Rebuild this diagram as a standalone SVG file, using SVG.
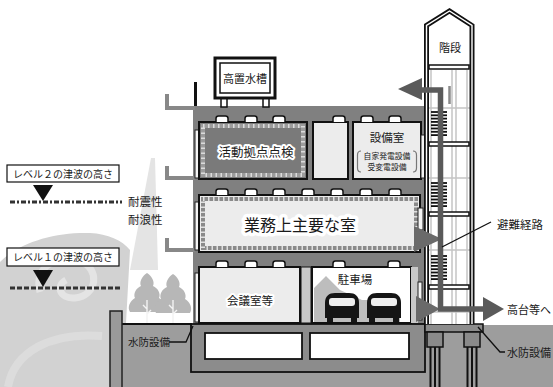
<svg xmlns="http://www.w3.org/2000/svg" width="553" height="387" viewBox="0 0 553 387">
<style>
  text { font-family: 'Noto Sans CJK JP', 'Noto Sans', sans-serif; fill: #1a1a1a; }
  .room { fill: #ececec; stroke: #111; stroke-width: 2; }
  .win { fill: #f4f4f4; stroke: #222; stroke-width: 1; }
  .tab { fill: #fff; stroke: #111; stroke-width: 1.5; }
  .halo { stroke: #fff; stroke-linejoin: round; paint-order: stroke; }
  .lead { fill: none; stroke: #111; stroke-width: 1.3; }
  .grid { stroke: #c4c4c4; stroke-width: 1.5; }
  .tread { stroke: #111; stroke-width: 1.8; }
  .route { fill: none; stroke: #5a5a5a; stroke-width: 5.5; }
  .head { fill: #5a5a5a; }
  .flow { fill: #6a6a6a; }
  .eave { fill: none; stroke: #888; stroke-width: 4; }
  .box { fill: #fff; stroke: #111; stroke-width: 1.2; }
  .tree { fill: #b7b7b7; }
  .trunk { stroke: #f3f3f3; stroke-width: 1.4; fill: none; }
  .pile { stroke: #111; stroke-width: 2; }
</style>
<defs>
  <path id="tab" class="tab" d="M0,6 V2.5 Q0,0 2.5,0 H9.5 Q12,0 12,2.5 V6"/>
  <g id="car">
    <path d="M0,25 V10 C0,3 4,0 10,0 H24 C30,0 34,3 34,10 V25 Z" fill="#151515"/>
    <rect x="4" y="5" width="26" height="8" rx="3" fill="#eee"/>
    <rect x="2" y="24" width="6" height="5" fill="#151515"/>
    <rect x="26" y="24" width="6" height="5" fill="#151515"/>
  </g>
  <g id="treads" class="tread">
    <line x1="431" y1="0" x2="447" y2="0"/>
    <line x1="431" y1="3.3" x2="447" y2="3.3"/>
    <line x1="431" y1="6.6" x2="447" y2="6.6"/>
    <line x1="431" y1="9.9" x2="447" y2="9.9"/>
    <line x1="431" y1="13.2" x2="447" y2="13.2"/>
    <line x1="431" y1="16.5" x2="447" y2="16.5"/>
    <line x1="431" y1="19.8" x2="447" y2="19.8"/>
    <line x1="431" y1="23.1" x2="447" y2="23.1"/>
  </g>
  <path id="crown" d="M0,0 C5,3 8,9 6,13 C11,15 14,21 12,25 C17,28 20,34 17,39 H-17 C-20,34 -17,28 -12,25 C-14,21 -11,15 -6,13 C-8,9 -5,3 0,0 Z"/>
</defs>

<rect width="553" height="387" fill="#fff"/>

<!-- tsunami wave backdrop -->
<g id="wave">
  <path d="M0,387 V262 C20,242 55,232 90,233 C108,234 122,240 130,250 L126,323 L110,323 L110,387 Z" fill="#d2d2d2"/>
  <path d="M40,292 C33,266 58,254 80,261 C101,269 97,296 75,298 C60,299 55,286 66,280" fill="none" stroke="#e4e4e4" stroke-width="7"/>
  <path d="M8,387 C14,352 50,332 102,336" fill="none" stroke="#dcdcdc" stroke-width="8"/>
  <polygon points="151,158 155,158 158,270 130,270" fill="#e4e4e4"/>
</g>

<!-- ground -->
<rect x="122" y="325" width="431" height="62" fill="#9d9d9d"/>
<line x1="122" y1="324" x2="192" y2="324" stroke="#111" stroke-width="2"/>
<rect x="110" y="311" width="12" height="80" fill="#9a9a9a" stroke="#222" stroke-width="1.5"/>

<!-- trees -->
<g id="trees">
  <use href="#crown" class="tree" transform="translate(147,273)"/>
  <use href="#crown" class="tree" transform="translate(173,274)"/>
  <path class="trunk" d="M147,300 V323 M147,309 L143,305 M147,314 L151,310 M173,300 V323 M173,309 L169,305 M173,314 L177,310"/>
</g>

<!-- building body -->
<g id="building">
  <rect x="193" y="106" width="233" height="218" fill="#808080"/>
  <polyline class="eave" points="167,94 167,108 195,108"/>
  <polyline class="eave" points="167,166 167,178 195,178"/>
  <polyline class="eave" points="167,238 167,250 195,250"/>
  <line x1="195.5" y1="82" x2="195.5" y2="106" stroke="#111" stroke-width="3"/>
</g>

<g id="water-tank">
  <rect x="221" y="96" width="6" height="11" fill="#fff" stroke="#111" stroke-width="1.5"/>
  <rect x="263" y="96" width="6" height="11" fill="#fff" stroke="#111" stroke-width="1.5"/>
  <rect x="215" y="58" width="60" height="40" fill="#fff" stroke="#111" stroke-width="3"/>
  <rect x="220" y="63" width="50" height="30" fill="#fff" stroke="#111" stroke-width="1.5"/>
  <text x="245" y="83" font-size="11" text-anchor="middle">高置水槽</text>
</g>

<!-- third floor -->
<g id="room-activity">
  <rect x="195" y="130" width="4" height="48" class="win"/>
  <rect x="199" y="122" width="108" height="57" fill="#7a7a7a" stroke="#111" stroke-width="2"/>
  <rect x="203" y="126" width="100" height="49" fill="none" stroke="#9c9c9c" stroke-width="4"/>
  <rect x="203" y="126" width="100" height="49" fill="none" stroke="#dcdcdc" stroke-width="4" stroke-dasharray="1.5 3.5"/>
  <text x="256" y="157" font-size="12.5" text-anchor="middle" class="halo" stroke-width="4">活動拠点点検</text>
</g>
<g id="room-spare">
  <rect x="313" y="122" width="35" height="57" class="room"/>
</g>
<g id="room-equipment">
  <rect x="353" y="122" width="68" height="57" class="room"/>
  <rect x="421" y="135" width="4" height="43" class="win"/>
  <text x="387" y="142" font-size="11.5" text-anchor="middle">設備室</text>
  <text x="387" y="159" font-size="7.8" text-anchor="middle">自家発電設備</text>
  <text x="387" y="169.5" font-size="7.8" text-anchor="middle">受変電設備</text>
  <path d="M361,151 Q357.5,151 357.5,155 V168 Q357.5,172 361,172 M413,151 Q416.5,151 416.5,155 V168 Q416.5,172 413,172" fill="none" stroke="#777" stroke-width="1.2"/>
</g>

<!-- second floor -->
<g id="room-main">
  <rect x="195" y="202" width="4" height="48" class="win"/>
  <rect x="199" y="195" width="221" height="57" class="room"/>
  <rect x="203" y="199" width="213" height="49" fill="none" stroke="#8a8a8a" stroke-width="4"/>
  <rect x="203" y="199" width="213" height="49" fill="none" stroke="#e0e0e0" stroke-width="4" stroke-dasharray="1.5 3.5"/>
  <rect x="418" y="208" width="5" height="22" class="win"/>
  <text x="300" y="231" font-size="16" text-anchor="middle" class="halo" stroke-width="7">業務上主要な室</text>
</g>

<!-- first floor -->
<g id="room-meeting">
  <rect x="195" y="273" width="4" height="49" class="win"/>
  <rect x="199" y="267" width="101" height="56" class="room"/>
  <text x="250" y="305" font-size="11.5" text-anchor="middle" class="halo" stroke-width="4">会議室等</text>
</g>
<rect x="301" y="267" width="10" height="56" fill="#c9c9c9" stroke="#111" stroke-width="1"/>
<g id="room-parking">
  <rect x="312" y="267" width="99" height="56" fill="#fff" stroke="#111" stroke-width="2"/>
  <polygon points="314,322 314,288 326,276 340,290 362,300 400,300 400,322" fill="#bdbdbd"/>
  <use href="#car" transform="translate(325,293)"/>
  <use href="#car" transform="translate(367,293)"/>
  <rect x="411" y="267" width="7" height="56" fill="#c9c9c9"/>
  <rect x="418" y="282" width="4" height="38" class="win"/>
  <text x="355" y="284" font-size="11.5" text-anchor="middle">駐車場</text>
</g>

<!-- ceiling lights -->
<g id="lights">
  <use href="#tab" x="216" y="116"/><use href="#tab" x="245" y="116"/><use href="#tab" x="273" y="116"/>
  <use href="#tab" x="333" y="116"/><use href="#tab" x="361" y="116"/><use href="#tab" x="389" y="116"/>
  <use href="#tab" x="216" y="189"/><use href="#tab" x="245" y="189"/><use href="#tab" x="273" y="189"/>
  <use href="#tab" x="302" y="189"/><use href="#tab" x="331" y="189"/><use href="#tab" x="360" y="189"/><use href="#tab" x="389" y="189"/>
  <use href="#tab" x="216" y="261"/><use href="#tab" x="245" y="261"/><use href="#tab" x="273" y="261"/>
  <use href="#tab" x="333" y="261"/><use href="#tab" x="388" y="261"/>
</g>

<!-- foundation -->
<g id="foundation">
  <rect x="191" y="324" width="234" height="48" fill="#8c8c8c" stroke="#111" stroke-width="1.8"/>
  <rect x="205" y="333" width="97" height="26" fill="#fff" stroke="#111" stroke-width="1.8"/>
  <rect x="310" y="333" width="99" height="26" fill="#fff" stroke="#111" stroke-width="1.8"/>
  <rect x="425" y="324" width="58" height="8" fill="#8c8c8c" stroke="#111" stroke-width="1.5"/>
  <rect x="427" y="332" width="16" height="15" fill="#8a8a8a" stroke="#111" stroke-width="1.5"/>
  <rect x="464" y="332" width="16" height="15" fill="#8a8a8a" stroke="#111" stroke-width="1.5"/>
  <path class="pile" d="M430.5,347 V387 M435,347 V387 M439.5,347 V387 M467.5,347 V387 M472,347 V387 M476.5,347 V387"/>
</g>

<!-- stair tower -->
<g id="stair">
  <path d="M426.5,324 V25.5 L449.5,11 L472,25.5 V324 Z" fill="#fff"/>
  <g class="grid">
    <line x1="431" y1="70" x2="431" y2="324"/>
    <line x1="452" y1="70" x2="452" y2="324"/>
    <line x1="456" y1="70" x2="456" y2="324"/>
    <line x1="467" y1="70" x2="467" y2="324"/>
    <line x1="429" y1="108" x2="470" y2="108"/>
    <line x1="429" y1="178" x2="470" y2="178"/>
    <line x1="429" y1="250" x2="470" y2="250"/>
    <line x1="429" y1="312" x2="470" y2="312"/>
  </g>
  <line x1="449.5" y1="86" x2="449.5" y2="104" stroke="#8a8a8a" stroke-width="2.5"/>
  <use href="#treads" y="112"/>
  <use href="#treads" y="183"/>
  <use href="#treads" y="256"/>
  <rect x="429" y="65" width="40" height="4" fill="#fff" stroke="#111" stroke-width="1.5"/>
  <rect x="429" y="142" width="40" height="4" fill="#fff" stroke="#111" stroke-width="1.5"/>
  <rect x="429" y="212" width="40" height="4" fill="#fff" stroke="#111" stroke-width="1.5"/>
  <rect x="429" y="285" width="40" height="4" fill="#fff" stroke="#111" stroke-width="1.5"/>
  <path d="M426.5,324 V25.5 L449.5,11 L472,25.5 V324" fill="none" stroke="#111" stroke-width="5"/>
  <path d="M426.5,324 V25.5 L449.5,11 L472,25.5 V324" fill="none" stroke="#fff" stroke-width="1.4"/>
  <text x="450" y="52" font-size="11" text-anchor="middle">階段</text>
</g>

<!-- evacuation flow -->
<g id="connectors">
  <polygon class="flow" points="414,226 442,239 414,252"/>
  <polygon class="flow" points="416,296 440,309 416,322"/>
  <polyline class="route" points="421,90 440.5,90 440.5,309 484,309"/>
  <polygon class="head" points="398,89 422,78 422,100"/>
  <polygon class="head" points="483,297 504,309 483,321"/>
  <line class="lead" x1="442" y1="247" x2="491" y2="222"/>
  <polyline class="lead" points="478,327 500,352 505,352"/>
  <polyline class="lead" points="169,342 186,342 193,326"/>
</g>

<text x="497" y="229" font-size="11.5">避難経路</text>
<text x="507" y="314" font-size="11">高台等へ</text>
<text x="507" y="357" font-size="11">水防設備</text>
<text x="128" y="346" font-size="10.5">水防設備</text>

<!-- tsunami levels -->
<g id="level-2">
  <rect x="7" y="165" width="112" height="17" class="box"/>
  <text x="63" y="177.5" font-size="10" text-anchor="middle">レベル２の津波の高さ</text>
  <polygon points="33,185 53,185 43,201" fill="#111"/>
  <line x1="10" y1="202" x2="122" y2="202" stroke="#333" stroke-width="3" stroke-dasharray="5 2 2 2"/>
</g>
<g id="level-1">
  <rect x="7" y="248" width="112" height="18" class="box"/>
  <text x="63" y="261" font-size="10" text-anchor="middle">レベル１の津波の高さ</text>
  <polygon points="33,270 53,270 43,287" fill="#111"/>
  <line x1="10" y1="288" x2="122" y2="288" stroke="#333" stroke-width="3" stroke-dasharray="5 2"/>
</g>
<text x="128" y="206" font-size="11.5">耐震性</text>
<text x="128" y="224" font-size="11.5">耐浪性</text>
</svg>
